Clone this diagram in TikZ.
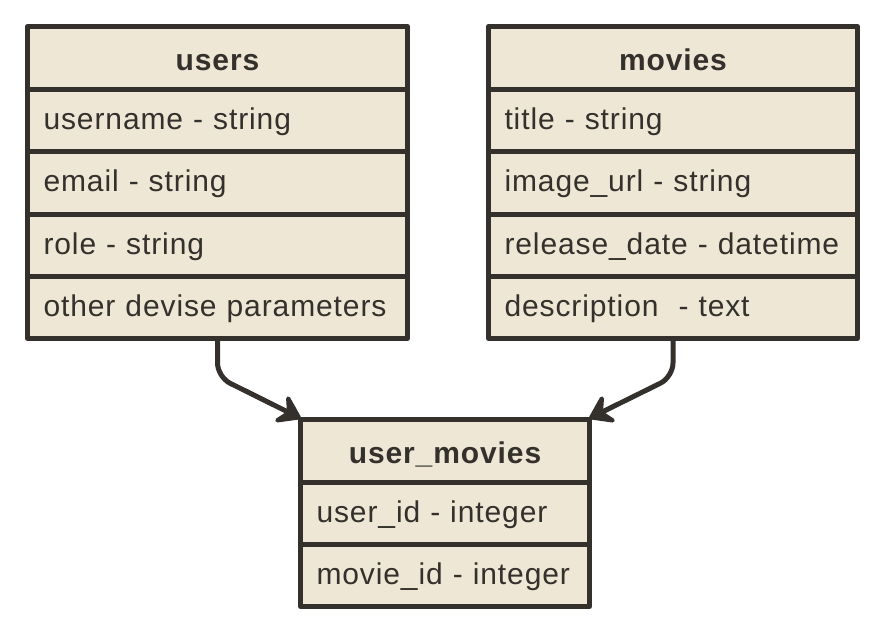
\documentclass[tikz,border=0pt]{standalone}
\usepackage{fontspec}
\setmainfont{Liberation Sans}[LetterSpace=3]
\usetikzlibrary{arrows.meta,backgrounds}
\definecolor{cellfill}{RGB}{238,231,213}
\definecolor{ink}{RGB}{52,49,44}
\tikzset{
  cell/.style={draw=ink, fill=cellfill, line width=5pt, rectangle, inner ysep=0pt,
    inner xsep=16pt, anchor=north west, text=ink, line join=round},
  hdr/.style={cell, align=center, text height=27pt, text depth=2pt,
    font=\fontsize{30pt}{36pt}\selectfont\bfseries},
  row/.style={cell, align=left, text height=21pt, text depth=3pt,
    font=\fontsize{30pt}{36pt}\selectfont},
  conn/.style={draw=ink, line width=5pt, rounded corners=14pt, shorten >=-3pt,
    -{Stealth[length=28pt,width=38pt,inset=11pt,round]}},
}
\begin{document}
\begin{tikzpicture}[x=1pt,y=-1pt]
\useasboundingbox (0,0) rectangle (884,632);
% users
\node[hdr, minimum width=380pt, minimum height=62.5pt, text width=348pt] (uh) at (25,24) {users};
\node[row, minimum width=380pt, minimum height=62.5pt, text width=348pt] (u1) at (25,86.5) {username - string};
\node[row, minimum width=380pt, minimum height=62.5pt, text width=348pt] (u2) at (25,149) {email - string};
\node[row, minimum width=380pt, minimum height=62.5pt, text width=348pt] (u3) at (25,211.5) {role - string};
\node[row, minimum width=380pt, minimum height=62pt, text width=348pt] (u4) at (25,274) {other devise parameters};
% movies
\node[hdr, minimum width=369pt, minimum height=62.5pt, text width=337pt] (mh) at (486,24) {movies};
\node[row, minimum width=369pt, minimum height=62.5pt, text width=337pt] (m1) at (486,86.5) {title - string};
\node[row, minimum width=369pt, minimum height=62.5pt, text width=337pt] (m2) at (486,149) {image\_url - string};
\node[row, minimum width=369pt, minimum height=62.5pt, text width=337pt] (m3) at (486,211.5) {release\_date - datetime};
\node[row, minimum width=369pt, minimum height=62pt, text width=337pt] (m4) at (486,274) {description\ \ - text};
% user_movies
\node[hdr, minimum width=289pt, minimum height=62.5pt, text width=257pt] (umh) at (298,417) {user\_movies};
\node[row, minimum width=289pt, minimum height=62pt, text width=257pt] (um1) at (298,479.5) {user\_id - integer};
\node[row, minimum width=289pt, minimum height=62.5pt, text width=257pt] (um2) at (298,541.5) {movie\_id - integer};
% connectors
\begin{scope}[on background layer]
\draw[conn] (u4.south) -- ++(0,36) -- (umh.north west);
\draw[conn] (m4.south) -- ++(0,36) -- (umh.north east);
\end{scope}
\end{tikzpicture}
\end{document}
